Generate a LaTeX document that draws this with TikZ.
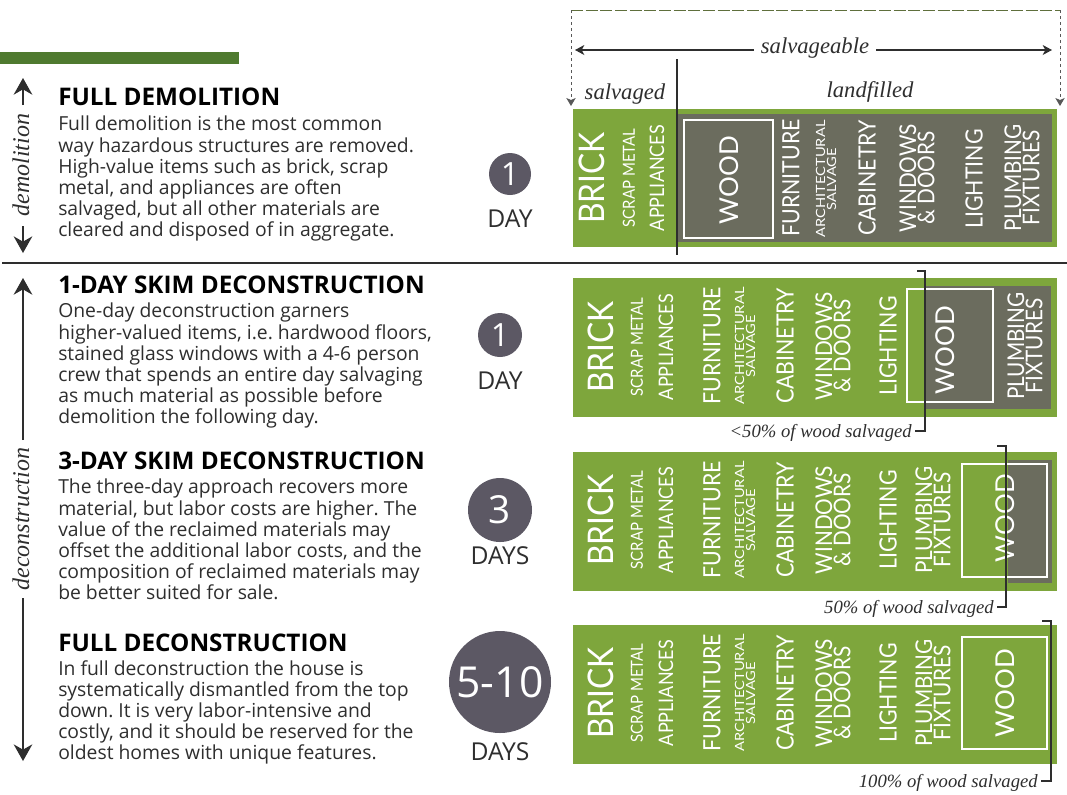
\documentclass[tikz,border=0pt]{standalone}
\usepackage{fontspec}
\setmainfont{Open Sans}
\newfontfamily\serifit{Liberation Serif}
\newfontfamily\lab[FakeStretch=0.9]{Lato}
\newfontfamily\labw{Lato}
\newfontfamily\labx[FakeStretch=1.16]{Lato}
\usetikzlibrary{arrows.meta}
\definecolor{grn}{HTML}{7EA63C}
\definecolor{dgrn}{HTML}{4F7A2F}
\definecolor{gry}{HTML}{6B6C5E}
\definecolor{circ}{HTML}{5C5864}
\definecolor{ink}{HTML}{2E2E2E}
\definecolor{dashgrn}{HTML}{5F6F3C}
\newcommand{\fsz}[2]{\fontsize{#1}{#2}\selectfont}
\frenchspacing
\tikzset{
 x=0.75pt,y=-0.75pt,
 greenbar/.style={fill=grn,draw=none},
 graybar/.style={fill=gry,draw=none},
 woodbox/.style={draw=white,line width=1.3pt,fill=none},
 lbl/.style={text=white,rotate=90,inner sep=0pt,align=center,font=\lab},
 brick/.style={lbl,font=\lab\fsz{26.5}{27}},
 scrap/.style={lbl,font=\lab\fsz{12.5}{13}},
 appl/.style={lbl,font=\lab\fsz{15}{15}},
 wood/.style={lbl,font=\labw\fsz{19.5}{21}},
 furn/.style={lbl,font=\lab\fsz{17.8}{18}},
 arch/.style={lbl,font=\labx\fsz{9.5}{8.3}},
 two/.style={lbl,font=\lab\fsz{17.3}{13.6}},
 note/.style={font=\serifit\itshape\fsz{14}{15},text=ink,inner sep=0pt},
 capt/.style={font=\serifit\itshape\fsz{17}{17},text=ink,inner sep=0pt},
 vcapt/.style={font=\serifit\itshape\fsz{18}{18},text=ink,inner sep=0pt,rotate=90},
 head/.style={anchor=west,inner sep=0pt,text=black,font=\bfseries\fsz{18.2}{18}},
 body/.style={anchor=north west,inner sep=0pt,align=left,text=ink,font=\fsz{14.5}{15.8}},
 num/.style={text=white,inner sep=0pt},
 daylbl/.style={text=ink,inner sep=0pt,font=\fsz{18.5}{18}},
 dot/.style={circle,fill=circ,inner sep=0pt},
 bigarr/.style={line width=1pt,draw=ink,-{Stealth[length=12.5pt,width=14pt,inset=4pt]}},
 arr/.style={line width=1pt,draw=ink,-{Stealth[length=7pt,width=7.5pt,inset=2pt]}},
 dshv/.style={line width=0.7pt,draw=ink!80,dash pattern=on 2.5pt off 2pt,-{Stealth[length=6pt,width=7pt,inset=1.5pt]}},
 dsht/.style={line width=0.7pt,draw=dashgrn,dash pattern=on 9pt off 2pt},
 brk/.style={line width=0.9pt,draw=ink},
 divider/.style={line width=0.8pt,draw=ink}
}
\begin{document}
\begin{tikzpicture}
\useasboundingbox (0,0) rectangle (1067,794);
\fill[dgrn] (0,52) rectangle (239,64);
\coordinate (ruleL) at (2,263); \coordinate (ruleR) at (1067,263);
\draw[divider] (ruleL) -- (ruleR);

% left arrows
\node[vcapt] (demo) at (21,165) {demolition};
\coordinate (demoT) at (23,78); \coordinate (demoB) at (23,253);
\coordinate (demoA) at (23,105); \coordinate (demoC) at (23,226);
\draw[bigarr] (demoA) -- (demoT);
\draw[bigarr] (demoC) -- (demoB);
\node[vcapt] (decon) at (21,519) {deconstruction};
\coordinate (deconT) at (23,278); \coordinate (deconB) at (23,761);
\coordinate (deconA) at (23,440); \coordinate (deconC) at (23,598);
\draw[bigarr] (deconA) -- (deconT);
\draw[bigarr] (deconC) -- (deconB);

% texts
\node[head] (h1) at (58,97) {FULL DEMOLITION};
\node[body] (b1) at (58,116) {Full demolition is the most common\\way hazardous structures are removed.\\High-value items such as brick, scrap\\metal, and appliances are often\\salvaged, but all other materials are\\cleared and disposed of in aggregate.};
\node[head] (h2) at (58,285) {1-DAY SKIM DECONSTRUCTION};
\node[body] (b2) at (58,303) {One-day deconstruction garners\\higher-valued items, i.e. hardwood floors,\\stained glass windows with a 4-6 person\\crew that spends an entire day salvaging\\as much material as possible before\\demolition the following day.};
\node[head] (h3) at (58,461) {3-DAY SKIM DECONSTRUCTION};
\node[body] (b3) at (58,479) {The three-day approach recovers more\\material, but labor costs are higher. The\\value of the reclaimed materials may\\offset the additional labor costs, and the\\composition of reclaimed materials may\\be better suited for sale.};
\node[head] (h4) at (58,643) {FULL DECONSTRUCTION};
\node[body] (b4) at (58,660) {In full deconstruction the house is\\systematically dismantled from the top\\down. It is very labor-intensive and\\costly, and it should be reserved for the\\oldest homes with unique features.};

% circles
\node[dot,minimum size=31.5pt] (c1) at (510,174) {};
\node[num,font=\fsz{24}{24}] at (c1) {1};
\node[daylbl] (d1) at (510,219) {DAY};
\node[dot,minimum size=33pt] (c2) at (500,335) {};
\node[num,font=\fsz{24}{24}] at (c2) {1};
\node[daylbl] (d2) at (500,381) {DAY};
\node[dot,minimum size=48pt] (c3) at (500,510) {};
\node[num,font=\fsz{29}{29}] at (c3) {3};
\node[daylbl] (d3) at (500,556) {DAYS};
\node[dot,minimum size=76.5pt] (c4) at (500,682) {};
\node[num,font=\fsz{32}{32}] at (c4) {5-10};
\node[daylbl] (d4) at (500,752) {DAYS};

% Box 1
\fill[greenbar] (573,109) rectangle (1057,247);
\fill[graybar] (677,114) rectangle (1052,242);
\draw[woodbox] (684,120) rectangle (773,238);
\node[brick] at (592,178) {BRICK};
\node[scrap] at (629,178) {SCRAP METAL};
\node[appl] at (657,178) {APPLIANCES};
\node[wood] at (729,180) {WOOD};
\node[furn] at (791,178) {FURNITURE};
\node[arch] at (826,179) {ARCHITECTURAL\\SALVAGE};
\node[furn] at (867,178) {CABINETRY};
\node[two] at (917,178) {WINDOWS\\\&~DOORS};
\node[furn] at (974,179) {LIGHTING};
\node[two] at (1022,178) {PLUMBING\\FIXTURES};
\coordinate (vT) at (677,59); \coordinate (vB) at (677,255);
\draw[brk] (vT) -- (vB);
\coordinate (dTL) at (571,10); \coordinate (dTR) at (1060,10);
\coordinate (dBL) at (571,106); \coordinate (dBR) at (1060,106);
\draw[dsht] (dTL) -- (dTR);
\draw[dshv] (dTL) -- (dBL);
\draw[dshv] (dTR) -- (dBR);
\node[capt] (sv) at (815,48) {salvageable};
\coordinate (svL) at (575,50); \coordinate (svR) at (1052,50);
\coordinate (svA) at (754,50); \coordinate (svB) at (876,50);
\draw[arr] (svA) -- (svL);
\draw[arr] (svB) -- (svR);
\node[capt] (s1) at (625,94) {salvaged};
\node[capt] (s2) at (870,92) {landfilled};

% Box 2
\fill[greenbar] (573,278) rectangle (1057,417);
\fill[graybar] (925,286) rectangle (1051,409);
\draw[woodbox] (907,289) rectangle (993,402);
\node[brick] at (601,347) {BRICK};
\node[scrap] at (637,347) {SCRAP METAL};
\node[appl] at (666,347) {APPLIANCES};
\node[furn] at (712,346) {FURNITURE};
\node[arch] at (745,346) {ARCHITECTURAL\\SALVAGE};
\node[furn] at (785,346) {CABINETRY};
\node[two] at (833,346) {WINDOWS\\\&~DOORS};
\node[furn] at (888,346) {LIGHTING};
\node[wood] at (945,350) {WOOD};
\node[two] at (1025,346) {PLUMBING\\FIXTURES};
\node[note,anchor=east] (n2) at (912,433) {<50\% of wood salvaged};
\coordinate (k2a) at (917,271); \coordinate (k2b) at (925,271); \coordinate (k2c) at (925,431); \coordinate (k2d) at (915,431);
\draw[brk] (k2a) -- (k2b) -- (k2c) -- (k2d);

% Box 3
\fill[greenbar] (573,452) rectangle (1057,591);
\fill[graybar] (1008,460) rectangle (1052,583);
\draw[woodbox] (962,464) rectangle (1047,577);
\node[brick] at (601,520) {BRICK};
\node[scrap] at (637,520) {SCRAP METAL};
\node[appl] at (666,520) {APPLIANCES};
\node[furn] at (712,520) {FURNITURE};
\node[arch] at (745,520) {ARCHITECTURAL\\SALVAGE};
\node[furn] at (785,520) {CABINETRY};
\node[two] at (833,520) {WINDOWS\\\&~DOORS};
\node[furn] at (888,520) {LIGHTING};
\node[two] at (933,520) {PLUMBING\\FIXTURES};
\node[wood] at (1005,518) {WOOD};
\node[note,anchor=east] (n3) at (994,609) {50\% of wood salvaged};
\coordinate (k3a) at (997,446); \coordinate (k3b) at (1006,446); \coordinate (k3c) at (1006,607); \coordinate (k3d) at (997,607);
\draw[brk] (k3a) -- (k3b) -- (k3c) -- (k3d);

% Box 4
\fill[greenbar] (573,625) rectangle (1057,764);
\draw[woodbox] (962,637) rectangle (1047,749);
\node[brick] at (601,693) {BRICK};
\node[scrap] at (637,693) {SCRAP METAL};
\node[appl] at (666,693) {APPLIANCES};
\node[furn] at (712,693) {FURNITURE};
\node[arch] at (745,693) {ARCHITECTURAL\\SALVAGE};
\node[furn] at (785,693) {CABINETRY};
\node[two] at (833,693) {WINDOWS\\\&~DOORS};
\node[furn] at (888,693) {LIGHTING};
\node[two] at (933,693) {PLUMBING\\FIXTURES};
\node[wood] at (1005,693) {WOOD};
\node[note,anchor=east] (n4) at (1038,783) {100\% of wood salvaged};
\coordinate (k4a) at (1042,621); \coordinate (k4b) at (1051,621); \coordinate (k4c) at (1051,781); \coordinate (k4d) at (1041,781);
\draw[brk] (k4a) -- (k4b) -- (k4c) -- (k4d);
\end{tikzpicture}
\end{document}
